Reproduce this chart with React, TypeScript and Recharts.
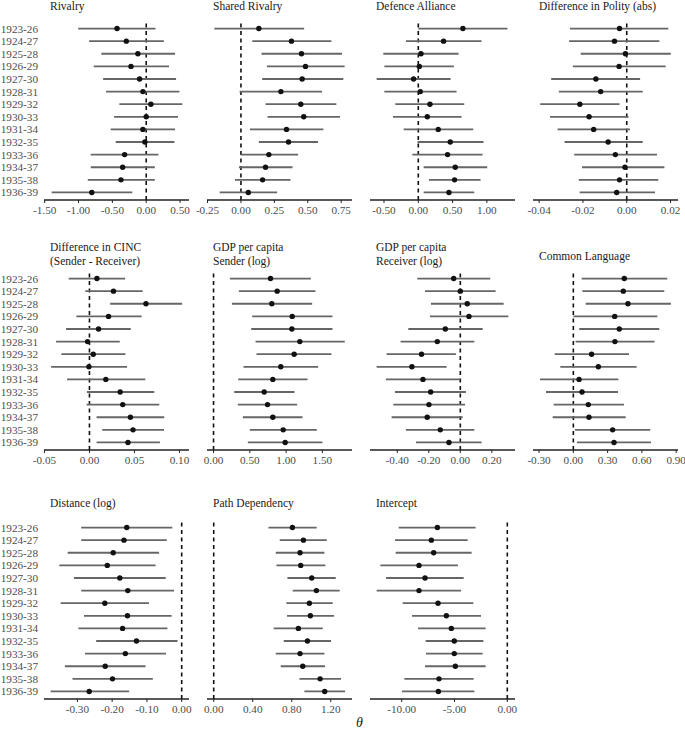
import { ScatterChart, Scatter, XAxis, YAxis, ErrorBar, ReferenceLine } from "recharts";

const periods = [
  "1923-26", "1924-27", "1925-28", "1926-29", "1927-30", "1928-31", "1929-32",
  "1930-33", "1931-34", "1932-35", "1933-36", "1934-37", "1935-38", "1936-39",
];

// posterior estimates with lower / upper interval bounds, one array per panel
const rivalryEst = [-0.431, -0.294, -0.123, -0.225, -0.098, -0.049, 0.069, 0.0, -0.049, -0.02, -0.319, -0.348, -0.373, -0.804];
const rivalryLo = [-1.005, -0.843, -0.662, -0.775, -0.637, -0.593, -0.397, -0.475, -0.525, -0.451, -0.819, -0.819, -0.863, -1.397];
const rivalryHi = [0.137, 0.26, 0.426, 0.338, 0.441, 0.49, 0.534, 0.47, 0.426, 0.417, 0.181, 0.127, 0.127, -0.206];

const sharedEst = [0.134, 0.378, 0.453, 0.483, 0.458, 0.299, 0.448, 0.47, 0.341, 0.356, 0.209, 0.184, 0.162, 0.055];
const sharedLo = [-0.199, 0.085, 0.154, 0.194, 0.159, -0.01, 0.184, 0.199, 0.067, 0.134, 0.0, -0.015, -0.045, -0.159];
const sharedHi = [0.473, 0.677, 0.756, 0.776, 0.766, 0.607, 0.714, 0.741, 0.617, 0.577, 0.428, 0.386, 0.371, 0.271];

const allianceEst = [0.65, 0.369, 0.039, 0.015, -0.068, 0.029, 0.17, 0.131, 0.291, 0.466, 0.427, 0.539, 0.529, 0.447];
const allianceLo = [0.0, -0.18, -0.51, -0.495, -0.607, -0.495, -0.335, -0.369, -0.214, -0.01, -0.087, 0.078, 0.155, 0.078];
const allianceHi = [1.3, 0.922, 0.587, 0.519, 0.471, 0.558, 0.67, 0.631, 0.801, 0.951, 0.937, 1.005, 0.908, 0.816];

const polityEst = [-0.0033, -0.0056, -0.0006, -0.0035, -0.0141, -0.0119, -0.0214, -0.0172, -0.0151, -0.0085, -0.0052, -0.0008, -0.0033, -0.0046];
const polityLo = [-0.0259, -0.0263, -0.021, -0.0246, -0.0345, -0.031, -0.0395, -0.035, -0.0316, -0.0284, -0.024, -0.0204, -0.0219, -0.0215];
const polityHi = [0.019, 0.0149, 0.0201, 0.0178, 0.0061, 0.0073, -0.0033, 0.0008, 0.0015, 0.0073, 0.0138, 0.0172, 0.0144, 0.0129];

const cincEst = [0.0083, 0.0267, 0.0628, 0.0212, 0.0101, -0.0021, 0.0042, -0.0006, 0.0182, 0.0341, 0.037, 0.0455, 0.0484, 0.0428];
const cincLo = [-0.0231, -0.0046, 0.023, -0.0145, -0.026, -0.0371, -0.0312, -0.0426, -0.0249, -0.0028, -0.0032, 0.0079, 0.0142, 0.0079];
const cincHi = [0.0396, 0.0591, 0.103, 0.058, 0.0459, 0.0337, 0.04, 0.0418, 0.0621, 0.072, 0.0776, 0.0831, 0.0828, 0.0783];

const gdpSendEst = [0.785, 0.877, 0.803, 1.084, 1.079, 1.189, 1.111, 0.927, 0.817, 0.698, 0.744, 0.817, 0.96, 0.987];
const gdpSendLo = [0.225, 0.349, 0.253, 0.533, 0.519, 0.579, 0.592, 0.413, 0.34, 0.285, 0.335, 0.404, 0.5, 0.473];
const gdpSendHi = [1.341, 1.405, 1.359, 1.639, 1.639, 1.809, 1.625, 1.442, 1.295, 1.116, 1.152, 1.226, 1.423, 1.501];

const gdpRecEst = [-0.042, 0.0, 0.044, 0.055, -0.095, -0.146, -0.246, -0.307, -0.237, -0.188, -0.199, -0.21, -0.127, -0.072];
const gdpRecLo = [-0.273, -0.224, -0.186, -0.193, -0.33, -0.379, -0.468, -0.531, -0.472, -0.415, -0.425, -0.436, -0.345, -0.281];
const gdpRecHi = [0.19, 0.224, 0.275, 0.305, 0.142, 0.089, -0.028, -0.087, 0.0, 0.036, 0.03, 0.015, 0.089, 0.135];

const langEst = [0.446, 0.437, 0.478, 0.362, 0.402, 0.364, 0.16, 0.219, 0.05, 0.076, 0.131, 0.137, 0.344, 0.356];
const langLo = [0.073, 0.079, 0.108, 0.0, 0.052, 0.02, -0.163, -0.114, -0.292, -0.239, -0.172, -0.181, 0.015, 0.032];
const langHi = [0.822, 0.796, 0.854, 0.735, 0.752, 0.711, 0.487, 0.554, 0.394, 0.391, 0.443, 0.458, 0.673, 0.679];

const distEst = [-0.158, -0.166, -0.197, -0.214, -0.178, -0.155, -0.221, -0.156, -0.17, -0.13, -0.162, -0.22, -0.199, -0.266];
const distLo = [-0.289, -0.289, -0.328, -0.352, -0.31, -0.289, -0.348, -0.281, -0.297, -0.246, -0.278, -0.336, -0.314, -0.377];
const distHi = [-0.027, -0.043, -0.065, -0.075, -0.046, -0.022, -0.094, -0.029, -0.041, -0.012, -0.045, -0.104, -0.083, -0.151];

const pathEst = [0.807, 0.92, 0.885, 0.892, 1.005, 1.053, 0.981, 0.991, 0.868, 0.961, 0.885, 0.913, 1.091, 1.138];
const pathLo = [0.561, 0.677, 0.636, 0.643, 0.756, 0.81, 0.745, 0.752, 0.615, 0.718, 0.636, 0.687, 0.879, 0.93];
const pathHi = [1.056, 1.159, 1.135, 1.145, 1.251, 1.292, 1.221, 1.234, 1.118, 1.203, 1.135, 1.142, 1.306, 1.347];

const interceptEst = [-6.62, -7.19, -6.97, -8.36, -7.79, -8.36, -6.56, -5.77, -5.3, -5.02, -5.02, -4.92, -6.47, -6.53];
const interceptLo = [-10.28, -10.63, -10.57, -12.02, -11.48, -12.37, -9.91, -9.02, -8.45, -7.73, -7.7, -7.79, -9.75, -9.97];
const interceptHi = [-3.0, -3.75, -3.38, -4.67, -4.13, -4.38, -3.22, -2.49, -2.05, -2.27, -2.33, -2.05, -3.19, -3.12];

const FONT = '"Liberation Serif", "DejaVu Serif", serif';
const colX = [[44, 189], [207, 352], [370, 515], [533, 678]];
const rowTop = [21, 271, 520];
const PLOT_H = 179;
const rowTicks = periods.map((_, i) => i);

type PanelProps = {
  title: string[];
  est: number[];
  lo: number[];
  hi: number[];
  domain: [number, number];
  ticks: number[];
  row: number;
  col: number;
};

const Dot = (p: any) => <circle cx={p.cx} cy={p.cy} r={2.7} fill="#111" />;

function Panel({ title, est, lo, hi, domain, ticks, row, col }: PanelProps) {
  const [x0, x1] = colX[col];
  const top = rowTop[row];
  const first = col === 0;
  const padL = first ? 0 : 16;
  const left = first ? 0 : x0 - padL;
  const width = x1 - left + 16;
  const height = 6 + PLOT_H + 24;
  const data = periods.map((_, i) => ({
    y: i,
    x: est[i],
    err: [est[i] - lo[i], hi[i] - est[i]],
  }));

  // title sits above the panel, single lines centred in the strip on row 2
  let titleTop = row === 0 ? -1 : row === 1 ? 240 : 496;
  if (row === 1 && title.length === 1) titleTop = 249;

  return (
    <>
      <div
        style={{
          position: "absolute",
          left: x0 + 6,
          top: titleTop,
          fontSize: 11.5,
          lineHeight: "14.4px",
          color: "#1a1a1a",
          whiteSpace: "nowrap",
        }}
      >
        {title.map((t) => (
          <div key={t}>{t}</div>
        ))}
      </div>
      <div style={{ position: "absolute", left, top: top - 6, width, height }}>
        <ScatterChart width={width} height={height} margin={{ top: 6, right: 16, bottom: 0, left: padL }}>
          <XAxis
            type="number"
            dataKey="x"
            domain={domain}
            allowDataOverflow
            ticks={ticks}
            interval={0}
            tickFormatter={(v: number) => v.toFixed(2)}
            height={24}
            axisLine={{ stroke: "#222", strokeWidth: 1.6 }}
            tickLine={{ stroke: "#222", strokeWidth: 1 }}
            tickSize={3}
            tickMargin={3}
            tick={{ fill: "#4d4d4d", fontSize: 11.2, fontFamily: FONT }}
          />
          <YAxis
            type="number"
            dataKey="y"
            domain={[-0.6, 13.6]}
            reversed
            ticks={rowTicks}
            interval={0}
            hide={!first}
            width={first ? x0 : 0}
            axisLine={false}
            tickLine={false}
            tickSize={0}
            tickMargin={6}
            tickFormatter={(i: number) => periods[i] ?? ""}
            tick={{ fill: "#4d4d4d", fontSize: 11.2, fontFamily: FONT }}
          />
          <ReferenceLine x={0} stroke="#111" strokeWidth={1.6} strokeDasharray="4 3.5" />
          <Scatter data={data} fill="#111" shape={Dot} isAnimationActive={false}>
            <ErrorBar
              dataKey="err"
              direction="x"
              width={0}
              stroke="#666"
              strokeWidth={1.8}
              isAnimationActive={false}
            />
          </Scatter>
        </ScatterChart>
      </div>
    </>
  );
}

export default function App() {
  return (
    <div
      style={{
        position: "absolute",
        left: 0,
        top: 0,
        width: 685,
        height: 731,
        background: "#fff",
        fontFamily: FONT,
      }}
    >
      <Panel title={["Rivalry"]} est={rivalryEst} lo={rivalryLo} hi={rivalryHi}
        domain={[-1.51, 0.632]} ticks={[-1.5, -1, -0.5, 0, 0.5]} row={0} col={0} />
      <Panel title={["Shared Rivalry"]} est={sharedEst} lo={sharedLo} hi={sharedHi}
        domain={[-0.254, 0.831]} ticks={[-0.25, 0, 0.25, 0.5, 0.75]} row={0} col={1} />
      <Panel title={["Defence Alliance"]} est={allianceEst} lo={allianceLo} hi={allianceHi}
        domain={[-0.704, 1.41]} ticks={[-0.5, 0, 0.5, 1]} row={0} col={2} />
      <Panel title={["Difference in Polity (abs)"]} est={polityEst} lo={polityLo} hi={polityHi}
        domain={[-0.0428, 0.0234]} ticks={[-0.04, -0.02, 0, 0.02]} row={0} col={3} />

      <Panel title={["Difference in CINC", "(Sender - Receiver)"]} est={cincEst} lo={cincLo} hi={cincHi}
        domain={[-0.0505, 0.1106]} ticks={[-0.05, 0, 0.05, 0.1]} row={1} col={0} />
      <Panel title={["GDP per capita", "Sender (log)"]} est={gdpSendEst} lo={gdpSendLo} hi={gdpSendHi}
        domain={[-0.09, 1.908]} ticks={[0, 0.5, 1, 1.5]} row={1} col={1} />
      <Panel title={["GDP per capita", "Receiver (log)"]} est={gdpRecEst} lo={gdpRecLo} hi={gdpRecHi}
        domain={[-0.573, 0.347]} ticks={[-0.4, -0.2, 0, 0.2]} row={1} col={2} />
      <Panel title={["Common Language"]} est={langEst} lo={langLo} hi={langHi}
        domain={[-0.353, 0.916]} ticks={[-0.3, 0, 0.3, 0.6, 0.9]} row={1} col={3} />

      <Panel title={["Distance (log)"]} est={distEst} lo={distLo} hi={distHi}
        domain={[-0.396, 0.021]} ticks={[-0.3, -0.2, -0.1, 0]} row={2} col={0} />
      <Panel title={["Path Dependency"]} est={pathEst} lo={pathLo} hi={pathHi}
        domain={[-0.069, 1.418]} ticks={[0, 0.4, 0.8, 1.2]} row={2} col={1} />
      <Panel title={["Intercept"]} est={interceptEst} lo={interceptLo} hi={interceptHi}
        domain={[-13.0, 0.73]} ticks={[-10, -5, 0]} row={2} col={2} />

      <div
        style={{
          position: "absolute",
          left: 356,
          top: 715,
          fontSize: 14,
          fontStyle: "italic",
          color: "#1a1a1a",
        }}
      >
        θ
      </div>
    </div>
  );
}
